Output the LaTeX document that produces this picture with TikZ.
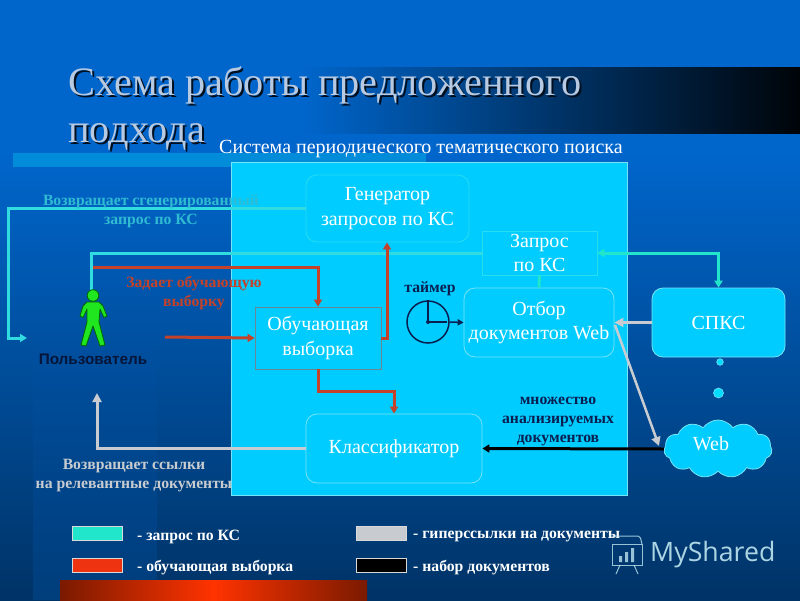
\documentclass[tikz,border=0pt]{standalone}
\usepackage{fontspec}
\setmainfont{Liberation Serif}
\newfontfamily\lsans{Liberation Sans}
\newfontfamily\osans{Open Sans}
\usetikzlibrary{arrows.meta,shapes.symbols,fadings}
\definecolor{bgtop}{HTML}{0066CC}
\definecolor{bgmid}{HTML}{004288}
\definecolor{bgbot}{HTML}{003366}
\definecolor{panel}{HTML}{00CCFF}
\definecolor{edgeL}{HTML}{77E4F6}
\definecolor{edgeF}{HTML}{28DCF2}
\definecolor{teal}{HTML}{22E6CC}
\definecolor{tealb}{HTML}{30DCE0}
\definecolor{tealt}{HTML}{2FBBD2}
\definecolor{redl}{HTML}{C4422A}
\definecolor{redsw}{HTML}{EE3311}
\definecolor{redhi}{HTML}{FF3300}
\definecolor{redlo}{HTML}{7A1A00}
\definecolor{greyl}{HTML}{C8CCD0}
\definecolor{navy}{HTML}{0A1E50}
\definecolor{ttlc}{HTML}{B8CAE2}
\definecolor{figg}{HTML}{1FE61F}
\definecolor{wm}{HTML}{BFE6F0}
\tikzset{
 x=1pt,y=-1pt,
 bx/.style={draw=edgeF,line width=0.8pt,fill=panel,text=white,align=center,inner sep=0pt,font=\fontsize{20}{24.5}\selectfont},
 rbx/.style={bx,draw=edgeL,rounded corners=11pt},
 tl/.style={line width=3pt,draw=teal,-{Triangle[length=7pt,width=8pt]}},
 tn/.style={line width=3pt,draw=teal},
 rl/.style={line width=3pt,draw=redl,-{Triangle[length=7pt,width=8pt]}},
 gl/.style={line width=3pt,draw=greyl,-{Triangle[length=9pt,width=9pt]}},
 kl/.style={line width=3pt,draw=black,-{Triangle[length=7pt,width=8pt]}},
 lab/.style={align=center,inner sep=0pt,font=\bfseries\fontsize{15.7}{18.7}\selectfont},
 leg/.style={anchor=west,inner sep=0pt,text=white,font=\bfseries\fontsize{15.7}{18}\selectfont},
 sw/.style={draw=white!85!black,line width=0.7pt,minimum width=50pt,minimum height=14pt,inner sep=0pt},
 ttl/.style={anchor=base west,inner sep=0pt,font=\fontsize{40.3}{46}\selectfont}
}
\begin{document}
\begin{tikzpicture}
\useasboundingbox (0,0) rectangle (800,600);
% background
\shade[top color=bgtop,middle color=bgmid,bottom color=bgbot] (0,150) rectangle (800,600);
\fill[bgtop] (0,0) rectangle (800,150.5);
\fill[bgtop,opacity=0.22,path fading=north] (33,300) rectangle (157,600);
% decorative bands
\shade[left color=bgtop,right color=black!92!bgbot] (300,67) rectangle (800,133);
\fill[color=bgtop!75!cyan] (13,153) rectangle (426,167);
\shade[left color=redlo,right color=redlo,middle color=redhi] (60,580) rectangle (367,600);
% title
\foreach \dx/\c in {2/black!70!bgbot,0/ttlc}{
 \node[ttl,text=\c] at (68+\dx,95+\dx) {Схема работы предложенного};
 \node[ttl,text=\c] at (68+\dx,142+\dx) {подхода};
}
\node[anchor=base west,inner sep=0pt,text=white,font=\fontsize{20}{22}\selectfont] (systitle) at (219,153) {Система периодического тематического поиска};
% main panel
\node[draw=edgeL,line width=0.8pt,fill=panel,minimum width=396pt,minimum height=333pt,inner sep=0pt] (sys) at (429,328.5) {};
% boxes
\node[rbx,draw=edgeF,minimum width=163pt,minimum height=67pt] (gen) at (387.5,208.5) {Генератор\\запросов по КС};
\node[bx,minimum width=115pt,minimum height=44pt] (req) at (539.5,253) {Запрос\\по КС};
\node[bx,draw=black!45!cyan!55!gray,minimum width=126pt,minimum height=62pt] (train) at (318,338) {Обучающая\\выборка};
\node[rbx,minimum width=150pt,minimum height=69pt] (sel) at (539,322.5) {Отбор\\документов Web};
\node[rbx,minimum width=176pt,minimum height=69pt] (cls) at (394,448.5) {Классификатор};
\node[rbx,minimum width=133pt,minimum height=69pt] (spks) at (718.5,322.5) {СПКС};
\node[cloud,cloud puffs=11,cloud puff arc=110,aspect=1.9,draw=edgeL,line width=0.8pt,fill=panel,inner sep=0pt,minimum width=108pt,minimum height=58pt] (web) at (718,449) {};
\node[text=white,inner sep=0pt,font=\fontsize{20}{22}\selectfont] (webl) at (711,444) {Web};
\fill[panel!70!cyan,draw=edgeL,line width=0.6pt] (720,362) circle (3.3);
\fill[panel!70!cyan,draw=edgeL,line width=0.6pt] (718.5,393) circle (5);
% free ends
\coordinate (uL) at (27,338);
\coordinate (uTop) at (91,291);
\coordinate (uRed) at (93,267);
\coordinate (uOut) at (165,337);
\coordinate (uBack) at (97,393);
% teal connectors
\draw[tl,draw=tealb] (gen.west) -- (8,208.5) |- (uL);
\draw[tn,draw=tealb] (req.west) -- (91,253) -- (uTop);
\draw[tl,{Triangle[length=7pt,width=8pt]}-{Triangle[length=7pt,width=8pt]}] (req.east) -- (718.5,253) -- (spks.north);
\draw[tn] (req.south) -- (sel.north);
% red connectors
\draw[rl] (uRed) -- (318,267) -- (train.north);
\draw[rl] (uOut) -- (train.west);
\draw[rl] (train.east) -- (387,338) -- (gen.south -| 387,0);
\draw[rl] (train.south) -- (318,391) -- (394,391) -- (cls.north);
% grey connectors
\draw[gl] (cls.west) -- (97,448.5) -- (uBack);
\draw[gl] (spks.west) -- (sel.east);
\coordinate (selOut) at (615,325);
\coordinate (webIn) at (659,446);
\draw[gl,line width=2.5pt] (selOut) -- (webIn);
% black
\draw[kl] (web.west) -- (cls.east);
% timer
\node[circle,draw=navy,line width=1.5pt,minimum size=42pt,inner sep=0pt] (timer) at (428,322) {};
\draw[navy,line width=1.5pt] (428,300) -- (timer.center) -- (447,322);
\fill[navy] (timer.center) circle (2);
\draw[navy,line width=1.5pt,-{Triangle[length=6pt,width=6pt]}] (timer.east) -- (sel.west);
\node[lab,text=navy] (timerl) at (430,289) {таймер};
% person
\fill[figg,draw=black!60!green,line width=0.8pt,line join=round]
 (87,302) -- (99,302) -- (103,306) -- (107,316) -- (104,317.5) -- (100,309) -- (99,322) -- (105,345) -- (100,346) -- (93,326) -- (86,346) -- (81,345) -- (87,322) -- (87,309) -- (83,317.5) -- (80,316) -- (83,306) -- cycle;
\filldraw[fill=figg,draw=black!60!green,line width=0.8pt] (93,295.5) circle (5.8);
\node[inner sep=0pt,text=navy!70!black,font=\lsans\bfseries\fontsize{15.3}{17}\selectfont] (user) at (93,359) {Пользователь};
% labels
\node[lab,text=tealt] (l1) at (151,211) {Возвращает сгенерированный\\запрос по КС};
\node[lab,text=redl] (l2) at (194,293) {Задает обучающую\\выборку};
\node[lab,text=greyl] (l3) at (134,475.5) {Возвращает ссылки\\на релевантные документы};
\node[lab,text=navy] (l4) at (558,421.5) {множество\\анализируемых\\документов};
% legend
\node[sw,fill=teal] (s1) at (97,533) {};
\node[sw,fill=redsw] (s2) at (97,565) {};
\node[sw,fill=greyl] (s3) at (381.5,533) {};
\node[sw,fill=black] (s4) at (381.5,565) {};
\node[leg] (t1) at (137,536.5) {- запрос по КС};
\node[leg] (t2) at (137,567.5) {- обучающая выборка};
\node[leg] (t3) at (413,536.5) {- гиперссылки на документы};
\node[leg] (t4) at (413,567.5) {- набор документов};
% watermark
\begin{scope}[draw=wm,line width=1pt,opacity=0.8]
\draw (612,544) rectangle (642,565);
\draw[rounded corners=2pt] (609,536) -- (640,536) -- (642,544);
\draw (620,565) -- (616,574) (634,565) -- (638,574);
\end{scope}
\fill[wm,opacity=.8] (619,556) rectangle (622,562) (625,552) rectangle (628,562) (631,548) rectangle (634,562);
\node[anchor=west,inner sep=0pt,text=wm,opacity=.9,font=\osans\fontsize{26.7}{30}\selectfont] (ms) at (650,555) {MyShared};
\end{tikzpicture}
\end{document}
